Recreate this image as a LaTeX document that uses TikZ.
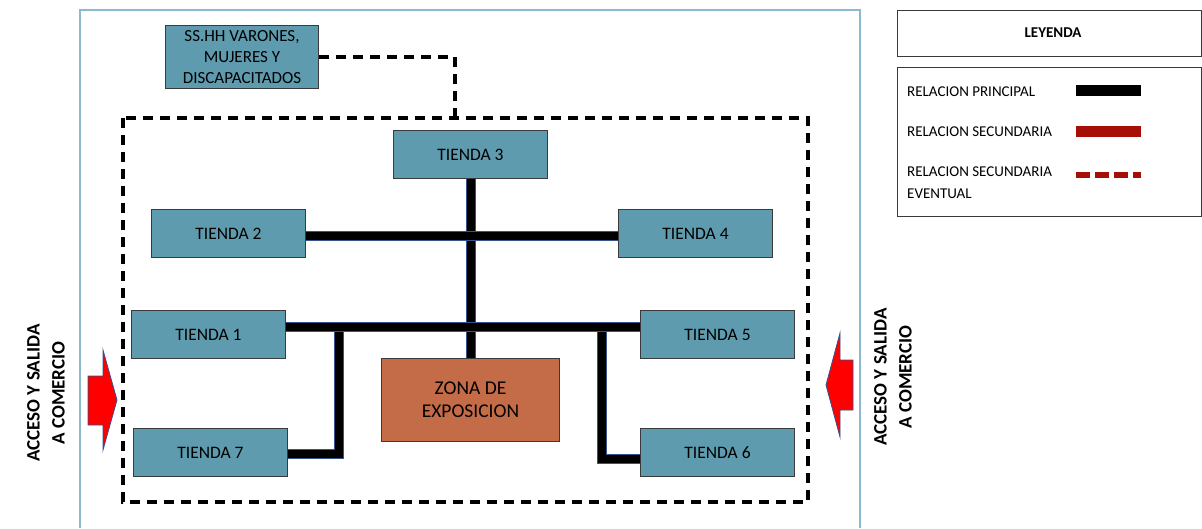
\documentclass[tikz,border=0pt]{standalone}
\usepackage{fontspec}
\setmainfont{Carlito}
\usetikzlibrary{positioning}
\definecolor{framec}{HTML}{8DB9CF}
\definecolor{shopc}{HTML}{5F9BAE}
\definecolor{expoc}{HTML}{C46C48}
\definecolor{edgec}{HTML}{3A3A3A}
\definecolor{redsec}{HTML}{A50F05}
\definecolor{barblue}{HTML}{34538F}
\definecolor{arrowred}{HTML}{FF0000}

\begin{document}
\begin{tikzpicture}[x=1pt,y=-1pt,line join=miter,
  shopbox/.style={draw=edgec,fill=shopc,line width=1pt,anchor=north west,
    minimum width=154pt,minimum height=48pt,inner sep=0pt,
    font=\fontsize{17.5}{20}\selectfont},
  expobox/.style={shopbox,fill=expoc,minimum width=178pt,minimum height=83pt,
    align=center,font=\fontsize{19.5}{23}\selectfont},
  bar/.style={preaction={draw=barblue,line width=10pt},draw=black,line width=8pt},
  dashwall/.style={draw=black,line width=3.5pt,dash pattern=on 10pt off 7pt},
  legendbox/.style={draw=edgec,line width=1pt},
  legendtxt/.style={anchor=west,inner sep=0pt,align=left,
    font=\fontsize{15}{22}\selectfont},
  accesstxt/.style={rotate=90,align=center,font=\bfseries\fontsize{19}{25}\selectfont},
  inarrow/.style={fill=arrowred,draw=barblue,line width=.8pt}]
  \useasboundingbox (0,0) rectangle (1202,528);

  % site frame, open at the bottom
  \draw[framec,line width=1.5pt] (80,528) -- (80,10) -- (860,10) -- (860,528);

  % service block and the commercial zone
  \node[shopbox,align=center,minimum width=153pt,minimum height=63pt,
    font=\fontsize{17}{21}\selectfont] (sshh) at (165,25)
    {SS.HH VARONES,\\MUJERES Y\\DISCAPACITADOS};
  \draw[dashwall] (123,118) rectangle (808,502);
  \coordinate (ssturn) at (455,57);
  \coordinate (ssdrop) at (455,118);
  \draw[dashwall] (sshh.east) -- (ssturn) -- (ssdrop);

  % stores
  \node[shopbox] (t3) at (393,130) {TIENDA 3};
  \node[shopbox] (t2) at (151,209) {TIENDA 2};
  \node[shopbox] (t4) at (618,209) {TIENDA 4};
  \node[shopbox] (t1) at (131,310) {TIENDA 1};
  \node[shopbox] (t5) at (640,310) {TIENDA 5};
  \node[shopbox] (t7) at (133,428) {TIENDA 7};
  \node[shopbox] (t6) at (640,428) {TIENDA 6};
  \node[expobox] (zona) at (381,358) {ZONA DE\\EXPOSICION};

  % main relations
  \coordinate (j0) at (470,236);
  \coordinate (jrow) at (470,327);
  \coordinate (j1) at (339,332);
  \coordinate (j2) at (339,454);
  \coordinate (j5) at (602,332);
  \coordinate (j6) at (602,459);
  \draw[bar] (t3.south) -- (zona.north);
  \draw[bar] (t2.east |- j0) -- (t4.west |- j0);
  \draw[bar] (t1.east |- jrow) -- (t5.west |- jrow);
  \draw[bar] (j1) -- (j2) -- (t7.east |- j2);
  \draw[bar] (j5) -- (j6) -- (t6.west |- j6);

  % access arrows
  \draw[inarrow] (88,376) -- (103,376) -- (103,350) -- (117,400)
    -- (103,450) -- (103,425) -- (88,425) -- cycle;
  \draw[inarrow] (853,360) -- (840,360) -- (840,333) -- (826,385)
    -- (840,437) -- (840,410) -- (853,410) -- cycle;
  \node[accesstxt] (accl) at (46,393) {ACCESO Y SALIDA\\A COMERCIO};
  \node[accesstxt] (accr) at (893,377) {ACCESO Y SALIDA\\A COMERCIO};

  % legend
  \draw[legendbox] (897,10) rectangle (1201,56);
  \node[font=\bfseries\fontsize{15}{18}\selectfont] (ley) at (1053,33) {LEYENDA};
  \draw[legendbox] (897,67) rectangle (1201,216);
  \node[legendtxt] (lprin) at (907,92) {RELACION PRINCIPAL};
  \node[legendtxt] (lsec) at (907,132) {RELACION SECUNDARIA};
  \node[legendtxt] (leve) at (907,183) {RELACION SECUNDARIA\\EVENTUAL};
  \draw[black,line width=11pt] (1076,90) -- (1141,90);
  \draw[redsec,line width=11pt] (1076,131) -- (1141,131);
  \draw[redsec,line width=6pt,dash pattern=on 14pt off 5pt] (1076,175) -- (1141,175);
\end{tikzpicture}
\end{document}
